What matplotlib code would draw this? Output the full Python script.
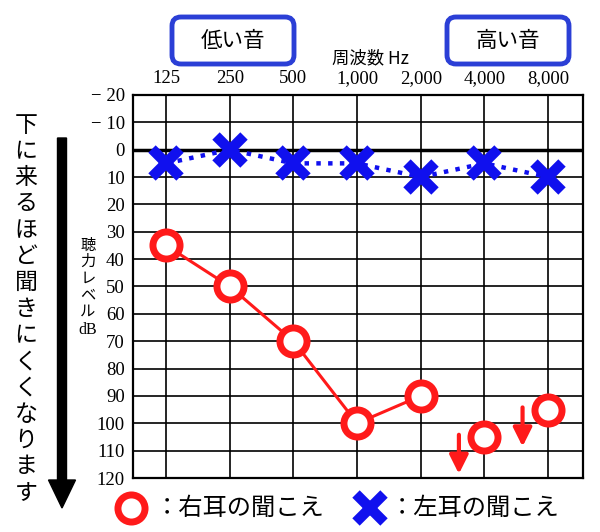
import matplotlib.pyplot as plt
from matplotlib.patches import FancyArrow, FancyBboxPatch
from matplotlib.markers import MarkerStyle

plt.rcParams['font.family'] = ['Noto Sans CJK JP', 'DejaVu Sans']

freqs = ['125', '250', '500', '1,000', '2,000', '4,000', '8,000']
right_ear = [35, 50, 70, 100, 90, 105, 95]
right_scaleout = [False, False, False, False, False, True, True]
left_ear = [5, 0, 5, 5, 10, 5, 10]
y_ticks = [-20, -10, 0, 10, 20, 30, 40, 50, 60, 70, 80, 90, 100, 110, 120]
y_labels = ['− 20', '− 10'] + [str(v) for v in y_ticks[2:]]

RED = '#ff1a1a'
BLUE = '#1010ee'
serif = ['Liberation Serif', 'DejaVu Serif']
xmark = MarkerStyle('x', capstyle='butt')

fig = plt.figure(figsize=(6, 5.32), dpi=100)
ax = fig.add_axes([0.2217, 0.1015, 0.75, 0.72])
x = list(range(len(freqs)))

ax.set_xlim(-0.52, 6.55)
ax.set_ylim(120, -20)
ax.set_xticks(x)
ax.set_xticklabels(freqs, family=serif, fontsize=13.5)
ax.set_yticks(y_ticks)
ax.set_yticklabels(y_labels, family=serif, fontsize=13.5)
ax.xaxis.tick_top()
ax.tick_params(length=0, pad=6)
ax.grid(True, color='black', lw=1.2)
ax.axhline(0, color='black', lw=2.5)
for s in ax.spines.values():
    s.set_linewidth(1.6)

# left ear
ax.plot(x, left_ear, color=BLUE, ls=':', lw=3.2, zorder=4)
ax.plot(x, left_ear, ls='none', marker=xmark, ms=20, mew=7.5,
        mec=BLUE, zorder=5)

# right ear (connected part)
conn = [i for i in x if not right_scaleout[i]]
ax.plot(conn, [right_ear[i] for i in conn], color=RED, lw=2.2, zorder=4)
ax.plot(x, right_ear, ls='none', marker='o', ms=19.5, mfc='white', mec=RED,
        mew=5, zorder=5)
for i in x:
    if right_scaleout[i]:
        ax.annotate('', xy=(i - 0.4, right_ear[i] + 13.5),
                    xytext=(i - 0.4, right_ear[i] - 0.8),
                    arrowprops=dict(arrowstyle='-|>', color=RED, lw=3,
                                    mutation_scale=28, shrinkA=0, shrinkB=0))

# overlay in pixel coords
ov = fig.add_axes([0, 0, 1, 1])
ov.set_xlim(0, 600)
ov.set_ylim(532, 0)
ov.axis('off')
ov.patch.set_alpha(0)

ov.text(370, 58, '周波数 Hz', ha='center', va='center', fontsize=12.5)
for x0, label in [(172, '低い音'), (447, '高い音')]:
    ov.add_patch(FancyBboxPatch((x0, 17), 122, 47,
                                boxstyle='round,pad=0,rounding_size=9',
                                fc='white', ec='#2b3fd6', lw=3.5))
    ov.text(x0 + 61, 41, label, ha='center', va='center', fontsize=15.5)

ov.add_patch(FancyArrow(62, 138, 0, 342, width=9, head_width=27,
                        head_length=28, length_includes_head=False,
                        color='black'))
msg = '下に来るほど聞きにくくなります'
for k, ch in enumerate(msg):
    ov.text(26, 125 + k * 26.3, ch, ha='center', va='center', fontsize=16.5)

for k, ch in enumerate(['聴', '力', 'レ', 'ベ', 'ル']):
    ov.text(88, 245 + k * 16.5, ch, ha='center', va='center', fontsize=11)
ov.text(88, 330, 'dB', ha='center', va='center', fontsize=11.5, family=serif)

ov.plot([131], [508], marker='o', ms=19.5, mfc='white', mec=RED, mew=5)
ov.text(155, 508, '：右耳の聞こえ', ha='left', va='center', fontsize=17.5)
ov.plot([370], [508], marker=xmark, ms=20, mew=7.5, mec=BLUE)
ov.text(390, 508, '：左耳の聞こえ', ha='left', va='center', fontsize=17.5)

fig.savefig('out.png', dpi=100, facecolor='white')
